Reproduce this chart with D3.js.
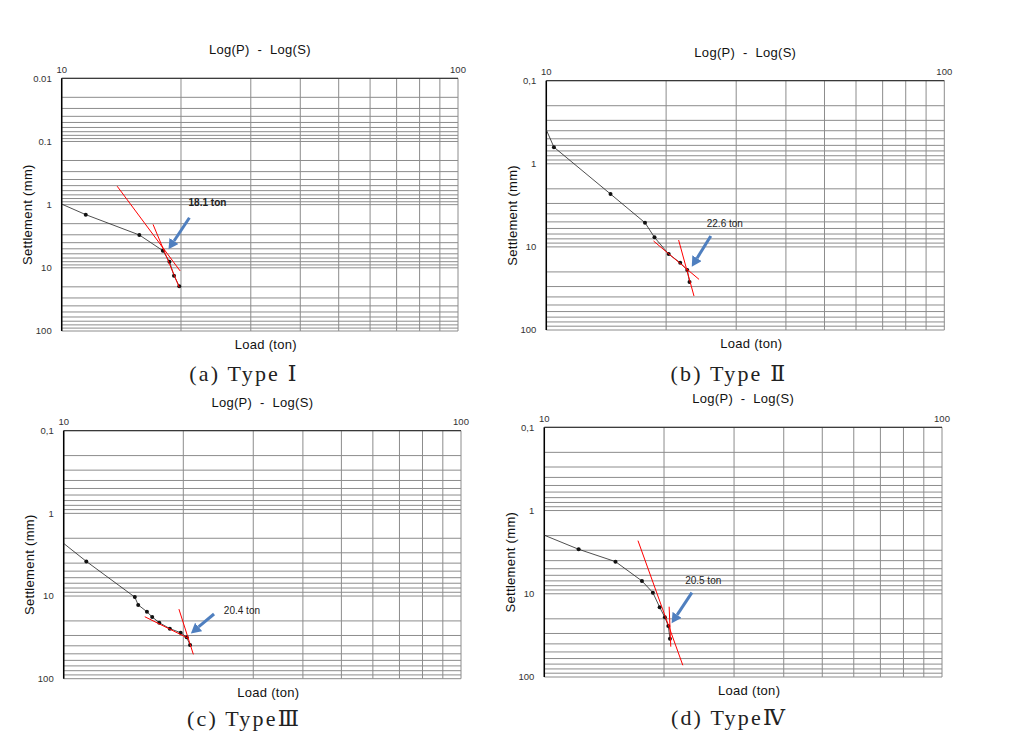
<!DOCTYPE html>
<html lang="en">
<head>
<meta charset="UTF-8">
<title>Log(P) - Log(S)</title>
<script src="https://d3js.org/d3.v7.min.js"></script>
<style>
  body { margin: 0; background: #fff; }
  svg { display: block; font-family: "Liberation Sans", Arial, sans-serif; }
  .grid line { stroke: #8c8c8c; stroke-width: 1; }
  .tick-label { font-size: 9.5px; fill: #333; }
  .title { font-size: 13px; letter-spacing: 0.3px; fill: #111; white-space: pre; }
  .axis-title { font-size: 13px; letter-spacing: 0.3px; fill: #111; }
  .data-line { fill: none; stroke: #222; stroke-width: 0.8; }
  .fit-line { stroke: #ff0000; stroke-width: 1; }
  .arrow { stroke: #4f7fbf; stroke-width: 3; }
  .yield { font-size: 10px; fill: #222; }
  .caption { font-family: "Liberation Serif", "DejaVu Serif", serif; font-size: 22px; letter-spacing: 2.2px; fill: #222; }
</style>
</head>
<body>
<script>
// ---- data ----
const captions = ["(a) Type Ⅰ", "(b) Type Ⅱ", "(c) TypeⅢ", "(d) TypeⅣ"];
const titleText = "Log(P)  -  Log(S)";
const xTitle = "Load (ton)";
const yTitle = "Settlement (mm)";
const xTickValues = [10, 100];
const xTickLabels = ["10", "100"];
const yTickValuesA = [0.01, 0.1, 1, 10, 100];
const yTickLabelsA = ["0.01", "0.1", "1", "10", "100"];
const yTickValuesB = [0.1, 1, 10, 100];
const yTickLabelsB = ["0,1", "1", "10", "100"];

// load (ton) / settlement (mm); first point is where the curve leaves the axis
const loadA = [10, 11.5, 15.7, 18.0, 18.7, 19.2, 19.8];
const settleA = [0.98, 1.44, 3.02, 5.35, 7.98, 13.3, 19.6];
const loadB = [10, 10.45, 14.5, 17.7, 18.7, 20.3, 21.7, 22.6, 22.9];
const settleB = [0.39, 0.63, 2.31, 5.12, 7.68, 12.2, 15.5, 19.0, 26.5];
const loadC = [10, 11.4, 15.1, 15.4, 16.2, 16.7, 17.4, 18.5, 19.7, 20.4, 20.8];
const settleC = [2.31, 3.81, 10.3, 12.8, 15.5, 17.9, 21.0, 24.8, 27.8, 31.6, 39.2];
const loadD = [10, 12.2, 15.1, 17.6, 18.75, 19.5, 20.1, 20.5, 20.7];
const settleD = [1.98, 2.92, 4.11, 7.02, 9.69, 14.5, 19.2, 24.4, 34.6];

// red tangent lines: [load1, settle1, load2, settle2]
const fitA = [[13.8, 0.51, 19.9, 11.2], [17.0, 2.05, 19.8, 20.4]];
const fitB = [[18.6, 8.5, 24.2, 24.6], [21.5, 8.27, 23.5, 39.0]];
const fitC = [[16.0, 17.8, 20.6, 32.5], [19.5, 14.4, 21.2, 50.8]];
const fitD = [[17.2, 2.30, 22.3, 72.3], [20.6, 14.3, 20.8, 43.2]];

// yield load annotations
const yieldLabels = ["18.1 ton", "22.6 ton", "20.4 ton", "20.5 ton"];
const labelLoad = [20.9, 25.3, 25.3, 22.6];
const labelSettle = [0.92, 5.26, 14.8, 6.95];
const arrowFrom = [[21.0, 1.61], [25.9, 7.4], [23.9, 16.5], [23.5, 9.7]];
const arrowTo = [[18.6, 5.1], [23.2, 17.3], [20.9, 28.3], [20.9, 22.6]];

// ---- layout ----
const width = 1014, height = 736;
const boxes = [
  {left: 61.7, top: 78.3, right: 458, bottom: 331},
  {left: 546.3, top: 80.7, right: 944.3, bottom: 330},
  {left: 63.7, top: 430.7, right: 461, bottom: 678.7},
  {left: 544.3, top: 427.3, right: 942, bottom: 677}
];
const captionPos = [[244, 381], [729, 381], [244, 726], [729, 725]];

const panels = [
  {load: loadA, settle: settleA, fits: fitA, yVals: yTickValuesA, yLabs: yTickLabelsA},
  {load: loadB, settle: settleB, fits: fitB, yVals: yTickValuesB, yLabs: yTickLabelsB},
  {load: loadC, settle: settleC, fits: fitC, yVals: yTickValuesB, yLabs: yTickLabelsB},
  {load: loadD, settle: settleD, fits: fitD, yVals: yTickValuesB, yLabs: yTickLabelsB}
];

const svg = d3.select("body").append("svg")
  .attr("width", width).attr("height", height);

svg.append("defs").append("marker")
  .attr("id", "head")
  .attr("markerUnits", "userSpaceOnUse")
  .attr("markerWidth", 12).attr("markerHeight", 12)
  .attr("refX", 0).attr("refY", 5.5)
  .attr("orient", "auto")
  .append("path")
  .attr("d", "M0,0 L10,5.5 L0,11 Z")
  .attr("fill", "#4f7fbf");

panels.forEach((p, i) => {
  const b = boxes[i];
  const g = svg.append("g");
  const x = d3.scaleLog().domain([10, 100]).range([b.left, b.right]);
  const y = d3.scaleLog().domain([p.yVals[0], 100]).range([b.top, b.bottom]);

  // grid
  const grid = g.append("g").attr("class", "grid");
  grid.selectAll(".v").data(x.ticks()).enter().append("line")
    .attr("x1", d => x(d)).attr("x2", d => x(d))
    .attr("y1", b.top).attr("y2", b.bottom);
  grid.selectAll(".h").data(y.ticks()).enter().append("line")
    .attr("y1", d => y(d)).attr("y2", d => y(d))
    .attr("x1", b.left).attr("x2", b.right);

  // frame: left and top dark
  g.append("line").attr("x1", b.left).attr("x2", b.left)
    .attr("y1", b.top).attr("y2", b.bottom)
    .attr("stroke", "#000").attr("stroke-width", 1.5);
  g.append("line").attr("x1", b.left).attr("x2", b.right)
    .attr("y1", b.top).attr("y2", b.top)
    .attr("stroke", "#222").attr("stroke-width", 1);

  // tick labels
  g.selectAll(".yl").data(p.yVals).enter().append("text")
    .attr("class", "tick-label")
    .attr("x", b.left - 10).attr("y", d => y(d)).attr("dy", "0.35em")
    .attr("text-anchor", "end")
    .text((d, k) => p.yLabs[k]);
  g.selectAll(".xl").data(xTickValues).enter().append("text")
    .attr("class", "tick-label")
    .attr("x", d => x(d)).attr("y", b.top - 5.5)
    .attr("text-anchor", "middle")
    .text((d, k) => xTickLabels[k]);

  // titles
  g.append("text").attr("class", "title")
    .attr("x", (b.left + b.right) / 2).attr("y", b.top - 24)
    .attr("text-anchor", "middle").text(titleText);
  g.append("text").attr("class", "axis-title")
    .attr("x", (b.left + b.right) / 2 + 6).attr("y", b.bottom + 18)
    .attr("text-anchor", "middle").text(xTitle);
  g.append("text").attr("class", "axis-title")
    .attr("transform", `translate(${b.left - 34},${(b.top + b.bottom) / 2 + 10}) rotate(-90)`)
    .attr("dy", "0.35em")
    .attr("text-anchor", "middle").text(yTitle);

  // data curve
  const pts = p.load.map((l, k) => [l, p.settle[k]]);
  const line = d3.line().x(d => x(d[0])).y(d => y(d[1]));
  g.append("path").attr("class", "data-line").attr("d", line(pts));
  g.selectAll(".pt").data(pts.filter(d => d[0] > 10)).enter().append("circle")
    .attr("cx", d => x(d[0])).attr("cy", d => y(d[1]))
    .attr("r", 2)
    .attr("fill", "#111");

  // red tangent lines
  g.selectAll(".fit").data(p.fits).enter().append("line")
    .attr("class", "fit-line")
    .attr("x1", d => x(d[0])).attr("y1", d => y(d[1]))
    .attr("x2", d => x(d[2])).attr("y2", d => y(d[3]));

  // arrow + label
  const x1 = x(arrowFrom[i][0]), y1 = y(arrowFrom[i][1]);
  const x2 = x(arrowTo[i][0]), y2 = y(arrowTo[i][1]);
  const len = Math.hypot(x2 - x1, y2 - y1);
  const k = (len - 10) / len;
  g.append("line").attr("class", "arrow")
    .attr("x1", x1).attr("y1", y1)
    .attr("x2", x1 + (x2 - x1) * k).attr("y2", y1 + (y2 - y1) * k)
    .attr("marker-end", "url(#head)");
  g.append("text").attr("class", "yield")
    .attr("x", x(labelLoad[i])).attr("y", y(labelSettle[i])).attr("dy", "0.35em")
    .attr("font-weight", i === 0 ? "bold" : "normal")
    .text(yieldLabels[i]);

  // caption
  svg.append("text").attr("class", "caption")
    .attr("x", captionPos[i][0]).attr("y", captionPos[i][1])
    .attr("text-anchor", "middle").text(captions[i]);
});
</script>
</body>
</html>
